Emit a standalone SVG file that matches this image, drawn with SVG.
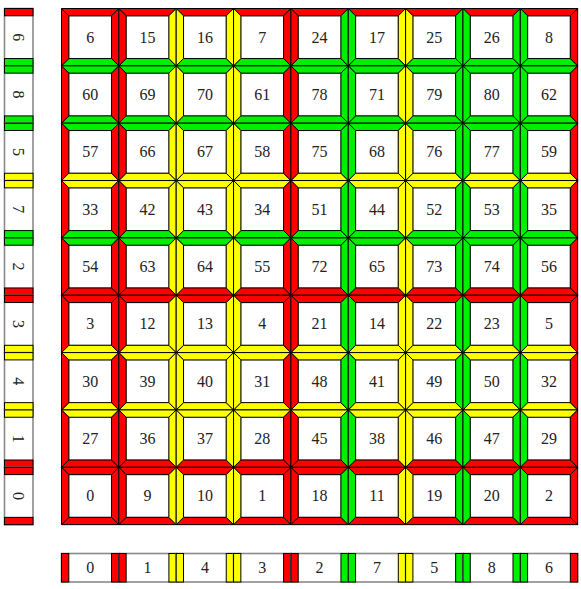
<svg xmlns="http://www.w3.org/2000/svg" xmlns:xlink="http://www.w3.org/1999/xlink" width="581" height="589" viewBox="0 0 581 589">
<style>
.w{fill:#fff;stroke:#8a8a8a;stroke-width:1.2}
.sw{fill:#fff;stroke:#8a8a8a;stroke-width:1.6}
.R{fill:#ff0000}
.G{fill:#00ee00}
.Y{fill:#ffff00}
.b{stroke:#000;stroke-width:1}
text{font-family:"Liberation Serif","Times New Roman",serif;font-size:16px;fill:#222;text-anchor:middle}
</style>
<defs>
<rect id="in" x="7.3" y="7.3" width="42.75" height="42.75" class="w"/>
<path id="tt" d="M0,0 H57.35 L50.05,7.3 H7.3 Z" stroke="#000" stroke-width="1"/>
<path id="tb" d="M0,57.35 H57.35 L50.05,50.05 H7.3 Z" stroke="#000" stroke-width="1"/>
<path id="tl" d="M0,0 V57.35 L7.3,50.05 V7.3 Z" stroke="#000" stroke-width="1"/>
<path id="tr" d="M57.35,0 V57.35 L50.05,50.05 V7.3 Z" stroke="#000" stroke-width="1"/>
<rect id="lt" x="0" y="0" width="28.5" height="7.3" stroke="#000" stroke-width="1"/>
<rect id="lb" x="0" y="50.05" width="28.5" height="7.3" stroke="#000" stroke-width="1"/>
<rect id="bl" x="0" y="0" width="7.3" height="28.5" stroke="#000" stroke-width="1"/>
<rect id="br" x="50.05" y="0" width="7.3" height="28.5" stroke="#000" stroke-width="1"/>
</defs>
<g id="connectors"></g>
<g id="rowlabels">
<g id="row6" transform="translate(4.5,8.5)"><rect class="sw" width="28.5" height="57.35"/><use xlink:href="#lt" class="R"/><use xlink:href="#lb" class="G"/><text transform="translate(14.25,28.7) rotate(90)" y="5.5">6</text></g>
<g id="row8" transform="translate(4.5,65.85)"><rect class="sw" width="28.5" height="57.35"/><use xlink:href="#lt" class="G"/><use xlink:href="#lb" class="G"/><text transform="translate(14.25,28.7) rotate(90)" y="5.5">8</text></g>
<g id="row5" transform="translate(4.5,123.2)"><rect class="sw" width="28.5" height="57.35"/><use xlink:href="#lt" class="G"/><use xlink:href="#lb" class="Y"/><text transform="translate(14.25,28.7) rotate(90)" y="5.5">5</text></g>
<g id="row7" transform="translate(4.5,180.55)"><rect class="sw" width="28.5" height="57.35"/><use xlink:href="#lt" class="Y"/><use xlink:href="#lb" class="G"/><text transform="translate(14.25,28.7) rotate(90)" y="5.5">7</text></g>
<g id="row2" transform="translate(4.5,237.9)"><rect class="sw" width="28.5" height="57.35"/><use xlink:href="#lt" class="G"/><use xlink:href="#lb" class="R"/><text transform="translate(14.25,28.7) rotate(90)" y="5.5">2</text></g>
<g id="row3" transform="translate(4.5,295.25)"><rect class="sw" width="28.5" height="57.35"/><use xlink:href="#lt" class="R"/><use xlink:href="#lb" class="Y"/><text transform="translate(14.25,28.7) rotate(90)" y="5.5">3</text></g>
<g id="row4" transform="translate(4.5,352.6)"><rect class="sw" width="28.5" height="57.35"/><use xlink:href="#lt" class="Y"/><use xlink:href="#lb" class="Y"/><text transform="translate(14.25,28.7) rotate(90)" y="5.5">4</text></g>
<g id="row1" transform="translate(4.5,409.95)"><rect class="sw" width="28.5" height="57.35"/><use xlink:href="#lt" class="Y"/><use xlink:href="#lb" class="R"/><text transform="translate(14.25,28.7) rotate(90)" y="5.5">1</text></g>
<g id="row0" transform="translate(4.5,467.3)"><rect class="sw" width="28.5" height="57.35"/><use xlink:href="#lt" class="R"/><use xlink:href="#lb" class="R"/><text transform="translate(14.25,28.7) rotate(90)" y="5.5">0</text></g>
</g>
<g id="collabels">
<g id="col0" transform="translate(61.5,553.5)"><rect class="sw" width="57.35" height="28.5"/><use xlink:href="#bl" class="R"/><use xlink:href="#br" class="R"/><text x="28.7" y="19.8">0</text></g>
<g id="col1" transform="translate(118.85,553.5)"><rect class="sw" width="57.35" height="28.5"/><use xlink:href="#bl" class="R"/><use xlink:href="#br" class="Y"/><text x="28.7" y="19.8">1</text></g>
<g id="col4" transform="translate(176.2,553.5)"><rect class="sw" width="57.35" height="28.5"/><use xlink:href="#bl" class="Y"/><use xlink:href="#br" class="Y"/><text x="28.7" y="19.8">4</text></g>
<g id="col3" transform="translate(233.55,553.5)"><rect class="sw" width="57.35" height="28.5"/><use xlink:href="#bl" class="Y"/><use xlink:href="#br" class="R"/><text x="28.7" y="19.8">3</text></g>
<g id="col2" transform="translate(290.9,553.5)"><rect class="sw" width="57.35" height="28.5"/><use xlink:href="#bl" class="R"/><use xlink:href="#br" class="G"/><text x="28.7" y="19.8">2</text></g>
<g id="col7" transform="translate(348.25,553.5)"><rect class="sw" width="57.35" height="28.5"/><use xlink:href="#bl" class="G"/><use xlink:href="#br" class="Y"/><text x="28.7" y="19.8">7</text></g>
<g id="col5" transform="translate(405.6,553.5)"><rect class="sw" width="57.35" height="28.5"/><use xlink:href="#bl" class="Y"/><use xlink:href="#br" class="G"/><text x="28.7" y="19.8">5</text></g>
<g id="col8" transform="translate(462.95,553.5)"><rect class="sw" width="57.35" height="28.5"/><use xlink:href="#bl" class="G"/><use xlink:href="#br" class="G"/><text x="28.7" y="19.8">8</text></g>
<g id="col6" transform="translate(520.3,553.5)"><rect class="sw" width="57.35" height="28.5"/><use xlink:href="#bl" class="G"/><use xlink:href="#br" class="R"/><text x="28.7" y="19.8">6</text></g>
</g>
<g id="grid">
<!-- row 0: top R bottom G -->
<g id="n6" transform="translate(61.5,8.5)"><use xlink:href="#in"/><use xlink:href="#tt" class="R"/><use xlink:href="#tb" class="G"/><use xlink:href="#tl" class="R"/><use xlink:href="#tr" class="R"/><text x="28.7" y="34.2">6</text></g>
<g id="n15" transform="translate(118.85,8.5)"><use xlink:href="#in"/><use xlink:href="#tt" class="R"/><use xlink:href="#tb" class="G"/><use xlink:href="#tl" class="R"/><use xlink:href="#tr" class="Y"/><text x="28.7" y="34.2">15</text></g>
<g id="n16" transform="translate(176.2,8.5)"><use xlink:href="#in"/><use xlink:href="#tt" class="R"/><use xlink:href="#tb" class="G"/><use xlink:href="#tl" class="Y"/><use xlink:href="#tr" class="Y"/><text x="28.7" y="34.2">16</text></g>
<g id="n7" transform="translate(233.55,8.5)"><use xlink:href="#in"/><use xlink:href="#tt" class="R"/><use xlink:href="#tb" class="G"/><use xlink:href="#tl" class="Y"/><use xlink:href="#tr" class="R"/><text x="28.7" y="34.2">7</text></g>
<g id="n24" transform="translate(290.9,8.5)"><use xlink:href="#in"/><use xlink:href="#tt" class="R"/><use xlink:href="#tb" class="G"/><use xlink:href="#tl" class="R"/><use xlink:href="#tr" class="G"/><text x="28.7" y="34.2">24</text></g>
<g id="n17" transform="translate(348.25,8.5)"><use xlink:href="#in"/><use xlink:href="#tt" class="R"/><use xlink:href="#tb" class="G"/><use xlink:href="#tl" class="G"/><use xlink:href="#tr" class="Y"/><text x="28.7" y="34.2">17</text></g>
<g id="n25" transform="translate(405.6,8.5)"><use xlink:href="#in"/><use xlink:href="#tt" class="R"/><use xlink:href="#tb" class="G"/><use xlink:href="#tl" class="Y"/><use xlink:href="#tr" class="G"/><text x="28.7" y="34.2">25</text></g>
<g id="n26" transform="translate(462.95,8.5)"><use xlink:href="#in"/><use xlink:href="#tt" class="R"/><use xlink:href="#tb" class="G"/><use xlink:href="#tl" class="G"/><use xlink:href="#tr" class="G"/><text x="28.7" y="34.2">26</text></g>
<g id="n8" transform="translate(520.3,8.5)"><use xlink:href="#in"/><use xlink:href="#tt" class="R"/><use xlink:href="#tb" class="G"/><use xlink:href="#tl" class="G"/><use xlink:href="#tr" class="R"/><text x="28.7" y="34.2">8</text></g>
<!-- row 1: top G bottom G -->
<g id="n60" transform="translate(61.5,65.85)"><use xlink:href="#in"/><use xlink:href="#tt" class="G"/><use xlink:href="#tb" class="G"/><use xlink:href="#tl" class="R"/><use xlink:href="#tr" class="R"/><text x="28.7" y="34.2">60</text></g>
<g id="n69" transform="translate(118.85,65.85)"><use xlink:href="#in"/><use xlink:href="#tt" class="G"/><use xlink:href="#tb" class="G"/><use xlink:href="#tl" class="R"/><use xlink:href="#tr" class="Y"/><text x="28.7" y="34.2">69</text></g>
<g id="n70" transform="translate(176.2,65.85)"><use xlink:href="#in"/><use xlink:href="#tt" class="G"/><use xlink:href="#tb" class="G"/><use xlink:href="#tl" class="Y"/><use xlink:href="#tr" class="Y"/><text x="28.7" y="34.2">70</text></g>
<g id="n61" transform="translate(233.55,65.85)"><use xlink:href="#in"/><use xlink:href="#tt" class="G"/><use xlink:href="#tb" class="G"/><use xlink:href="#tl" class="Y"/><use xlink:href="#tr" class="R"/><text x="28.7" y="34.2">61</text></g>
<g id="n78" transform="translate(290.9,65.85)"><use xlink:href="#in"/><use xlink:href="#tt" class="G"/><use xlink:href="#tb" class="G"/><use xlink:href="#tl" class="R"/><use xlink:href="#tr" class="G"/><text x="28.7" y="34.2">78</text></g>
<g id="n71" transform="translate(348.25,65.85)"><use xlink:href="#in"/><use xlink:href="#tt" class="G"/><use xlink:href="#tb" class="G"/><use xlink:href="#tl" class="G"/><use xlink:href="#tr" class="Y"/><text x="28.7" y="34.2">71</text></g>
<g id="n79" transform="translate(405.6,65.85)"><use xlink:href="#in"/><use xlink:href="#tt" class="G"/><use xlink:href="#tb" class="G"/><use xlink:href="#tl" class="Y"/><use xlink:href="#tr" class="G"/><text x="28.7" y="34.2">79</text></g>
<g id="n80" transform="translate(462.95,65.85)"><use xlink:href="#in"/><use xlink:href="#tt" class="G"/><use xlink:href="#tb" class="G"/><use xlink:href="#tl" class="G"/><use xlink:href="#tr" class="G"/><text x="28.7" y="34.2">80</text></g>
<g id="n62" transform="translate(520.3,65.85)"><use xlink:href="#in"/><use xlink:href="#tt" class="G"/><use xlink:href="#tb" class="G"/><use xlink:href="#tl" class="G"/><use xlink:href="#tr" class="R"/><text x="28.7" y="34.2">62</text></g>
<!-- row 2: top G bottom Y -->
<g id="n57" transform="translate(61.5,123.2)"><use xlink:href="#in"/><use xlink:href="#tt" class="G"/><use xlink:href="#tb" class="Y"/><use xlink:href="#tl" class="R"/><use xlink:href="#tr" class="R"/><text x="28.7" y="34.2">57</text></g>
<g id="n66" transform="translate(118.85,123.2)"><use xlink:href="#in"/><use xlink:href="#tt" class="G"/><use xlink:href="#tb" class="Y"/><use xlink:href="#tl" class="R"/><use xlink:href="#tr" class="Y"/><text x="28.7" y="34.2">66</text></g>
<g id="n67" transform="translate(176.2,123.2)"><use xlink:href="#in"/><use xlink:href="#tt" class="G"/><use xlink:href="#tb" class="Y"/><use xlink:href="#tl" class="Y"/><use xlink:href="#tr" class="Y"/><text x="28.7" y="34.2">67</text></g>
<g id="n58" transform="translate(233.55,123.2)"><use xlink:href="#in"/><use xlink:href="#tt" class="G"/><use xlink:href="#tb" class="Y"/><use xlink:href="#tl" class="Y"/><use xlink:href="#tr" class="R"/><text x="28.7" y="34.2">58</text></g>
<g id="n75" transform="translate(290.9,123.2)"><use xlink:href="#in"/><use xlink:href="#tt" class="G"/><use xlink:href="#tb" class="Y"/><use xlink:href="#tl" class="R"/><use xlink:href="#tr" class="G"/><text x="28.7" y="34.2">75</text></g>
<g id="n68" transform="translate(348.25,123.2)"><use xlink:href="#in"/><use xlink:href="#tt" class="G"/><use xlink:href="#tb" class="Y"/><use xlink:href="#tl" class="G"/><use xlink:href="#tr" class="Y"/><text x="28.7" y="34.2">68</text></g>
<g id="n76" transform="translate(405.6,123.2)"><use xlink:href="#in"/><use xlink:href="#tt" class="G"/><use xlink:href="#tb" class="Y"/><use xlink:href="#tl" class="Y"/><use xlink:href="#tr" class="G"/><text x="28.7" y="34.2">76</text></g>
<g id="n77" transform="translate(462.95,123.2)"><use xlink:href="#in"/><use xlink:href="#tt" class="G"/><use xlink:href="#tb" class="Y"/><use xlink:href="#tl" class="G"/><use xlink:href="#tr" class="G"/><text x="28.7" y="34.2">77</text></g>
<g id="n59" transform="translate(520.3,123.2)"><use xlink:href="#in"/><use xlink:href="#tt" class="G"/><use xlink:href="#tb" class="Y"/><use xlink:href="#tl" class="G"/><use xlink:href="#tr" class="R"/><text x="28.7" y="34.2">59</text></g>
<!-- row 3: top Y bottom G -->
<g id="n33" transform="translate(61.5,180.55)"><use xlink:href="#in"/><use xlink:href="#tt" class="Y"/><use xlink:href="#tb" class="G"/><use xlink:href="#tl" class="R"/><use xlink:href="#tr" class="R"/><text x="28.7" y="34.2">33</text></g>
<g id="n42" transform="translate(118.85,180.55)"><use xlink:href="#in"/><use xlink:href="#tt" class="Y"/><use xlink:href="#tb" class="G"/><use xlink:href="#tl" class="R"/><use xlink:href="#tr" class="Y"/><text x="28.7" y="34.2">42</text></g>
<g id="n43" transform="translate(176.2,180.55)"><use xlink:href="#in"/><use xlink:href="#tt" class="Y"/><use xlink:href="#tb" class="G"/><use xlink:href="#tl" class="Y"/><use xlink:href="#tr" class="Y"/><text x="28.7" y="34.2">43</text></g>
<g id="n34" transform="translate(233.55,180.55)"><use xlink:href="#in"/><use xlink:href="#tt" class="Y"/><use xlink:href="#tb" class="G"/><use xlink:href="#tl" class="Y"/><use xlink:href="#tr" class="R"/><text x="28.7" y="34.2">34</text></g>
<g id="n51" transform="translate(290.9,180.55)"><use xlink:href="#in"/><use xlink:href="#tt" class="Y"/><use xlink:href="#tb" class="G"/><use xlink:href="#tl" class="R"/><use xlink:href="#tr" class="G"/><text x="28.7" y="34.2">51</text></g>
<g id="n44" transform="translate(348.25,180.55)"><use xlink:href="#in"/><use xlink:href="#tt" class="Y"/><use xlink:href="#tb" class="G"/><use xlink:href="#tl" class="G"/><use xlink:href="#tr" class="Y"/><text x="28.7" y="34.2">44</text></g>
<g id="n52" transform="translate(405.6,180.55)"><use xlink:href="#in"/><use xlink:href="#tt" class="Y"/><use xlink:href="#tb" class="G"/><use xlink:href="#tl" class="Y"/><use xlink:href="#tr" class="G"/><text x="28.7" y="34.2">52</text></g>
<g id="n53" transform="translate(462.95,180.55)"><use xlink:href="#in"/><use xlink:href="#tt" class="Y"/><use xlink:href="#tb" class="G"/><use xlink:href="#tl" class="G"/><use xlink:href="#tr" class="G"/><text x="28.7" y="34.2">53</text></g>
<g id="n35" transform="translate(520.3,180.55)"><use xlink:href="#in"/><use xlink:href="#tt" class="Y"/><use xlink:href="#tb" class="G"/><use xlink:href="#tl" class="G"/><use xlink:href="#tr" class="R"/><text x="28.7" y="34.2">35</text></g>
<!-- row 4: top G bottom R -->
<g id="n54" transform="translate(61.5,237.9)"><use xlink:href="#in"/><use xlink:href="#tt" class="G"/><use xlink:href="#tb" class="R"/><use xlink:href="#tl" class="R"/><use xlink:href="#tr" class="R"/><text x="28.7" y="34.2">54</text></g>
<g id="n63" transform="translate(118.85,237.9)"><use xlink:href="#in"/><use xlink:href="#tt" class="G"/><use xlink:href="#tb" class="R"/><use xlink:href="#tl" class="R"/><use xlink:href="#tr" class="Y"/><text x="28.7" y="34.2">63</text></g>
<g id="n64" transform="translate(176.2,237.9)"><use xlink:href="#in"/><use xlink:href="#tt" class="G"/><use xlink:href="#tb" class="R"/><use xlink:href="#tl" class="Y"/><use xlink:href="#tr" class="Y"/><text x="28.7" y="34.2">64</text></g>
<g id="n55" transform="translate(233.55,237.9)"><use xlink:href="#in"/><use xlink:href="#tt" class="G"/><use xlink:href="#tb" class="R"/><use xlink:href="#tl" class="Y"/><use xlink:href="#tr" class="R"/><text x="28.7" y="34.2">55</text></g>
<g id="n72" transform="translate(290.9,237.9)"><use xlink:href="#in"/><use xlink:href="#tt" class="G"/><use xlink:href="#tb" class="R"/><use xlink:href="#tl" class="R"/><use xlink:href="#tr" class="G"/><text x="28.7" y="34.2">72</text></g>
<g id="n65" transform="translate(348.25,237.9)"><use xlink:href="#in"/><use xlink:href="#tt" class="G"/><use xlink:href="#tb" class="R"/><use xlink:href="#tl" class="G"/><use xlink:href="#tr" class="Y"/><text x="28.7" y="34.2">65</text></g>
<g id="n73" transform="translate(405.6,237.9)"><use xlink:href="#in"/><use xlink:href="#tt" class="G"/><use xlink:href="#tb" class="R"/><use xlink:href="#tl" class="Y"/><use xlink:href="#tr" class="G"/><text x="28.7" y="34.2">73</text></g>
<g id="n74" transform="translate(462.95,237.9)"><use xlink:href="#in"/><use xlink:href="#tt" class="G"/><use xlink:href="#tb" class="R"/><use xlink:href="#tl" class="G"/><use xlink:href="#tr" class="G"/><text x="28.7" y="34.2">74</text></g>
<g id="n56" transform="translate(520.3,237.9)"><use xlink:href="#in"/><use xlink:href="#tt" class="G"/><use xlink:href="#tb" class="R"/><use xlink:href="#tl" class="G"/><use xlink:href="#tr" class="R"/><text x="28.7" y="34.2">56</text></g>
<!-- row 5: top R bottom Y -->
<g id="n3" transform="translate(61.5,295.25)"><use xlink:href="#in"/><use xlink:href="#tt" class="R"/><use xlink:href="#tb" class="Y"/><use xlink:href="#tl" class="R"/><use xlink:href="#tr" class="R"/><text x="28.7" y="34.2">3</text></g>
<g id="n12" transform="translate(118.85,295.25)"><use xlink:href="#in"/><use xlink:href="#tt" class="R"/><use xlink:href="#tb" class="Y"/><use xlink:href="#tl" class="R"/><use xlink:href="#tr" class="Y"/><text x="28.7" y="34.2">12</text></g>
<g id="n13" transform="translate(176.2,295.25)"><use xlink:href="#in"/><use xlink:href="#tt" class="R"/><use xlink:href="#tb" class="Y"/><use xlink:href="#tl" class="Y"/><use xlink:href="#tr" class="Y"/><text x="28.7" y="34.2">13</text></g>
<g id="n4" transform="translate(233.55,295.25)"><use xlink:href="#in"/><use xlink:href="#tt" class="R"/><use xlink:href="#tb" class="Y"/><use xlink:href="#tl" class="Y"/><use xlink:href="#tr" class="R"/><text x="28.7" y="34.2">4</text></g>
<g id="n21" transform="translate(290.9,295.25)"><use xlink:href="#in"/><use xlink:href="#tt" class="R"/><use xlink:href="#tb" class="Y"/><use xlink:href="#tl" class="R"/><use xlink:href="#tr" class="G"/><text x="28.7" y="34.2">21</text></g>
<g id="n14" transform="translate(348.25,295.25)"><use xlink:href="#in"/><use xlink:href="#tt" class="R"/><use xlink:href="#tb" class="Y"/><use xlink:href="#tl" class="G"/><use xlink:href="#tr" class="Y"/><text x="28.7" y="34.2">14</text></g>
<g id="n22" transform="translate(405.6,295.25)"><use xlink:href="#in"/><use xlink:href="#tt" class="R"/><use xlink:href="#tb" class="Y"/><use xlink:href="#tl" class="Y"/><use xlink:href="#tr" class="G"/><text x="28.7" y="34.2">22</text></g>
<g id="n23" transform="translate(462.95,295.25)"><use xlink:href="#in"/><use xlink:href="#tt" class="R"/><use xlink:href="#tb" class="Y"/><use xlink:href="#tl" class="G"/><use xlink:href="#tr" class="G"/><text x="28.7" y="34.2">23</text></g>
<g id="n5" transform="translate(520.3,295.25)"><use xlink:href="#in"/><use xlink:href="#tt" class="R"/><use xlink:href="#tb" class="Y"/><use xlink:href="#tl" class="G"/><use xlink:href="#tr" class="R"/><text x="28.7" y="34.2">5</text></g>
<!-- row 6: top Y bottom Y -->
<g id="n30" transform="translate(61.5,352.6)"><use xlink:href="#in"/><use xlink:href="#tt" class="Y"/><use xlink:href="#tb" class="Y"/><use xlink:href="#tl" class="R"/><use xlink:href="#tr" class="R"/><text x="28.7" y="34.2">30</text></g>
<g id="n39" transform="translate(118.85,352.6)"><use xlink:href="#in"/><use xlink:href="#tt" class="Y"/><use xlink:href="#tb" class="Y"/><use xlink:href="#tl" class="R"/><use xlink:href="#tr" class="Y"/><text x="28.7" y="34.2">39</text></g>
<g id="n40" transform="translate(176.2,352.6)"><use xlink:href="#in"/><use xlink:href="#tt" class="Y"/><use xlink:href="#tb" class="Y"/><use xlink:href="#tl" class="Y"/><use xlink:href="#tr" class="Y"/><text x="28.7" y="34.2">40</text></g>
<g id="n31" transform="translate(233.55,352.6)"><use xlink:href="#in"/><use xlink:href="#tt" class="Y"/><use xlink:href="#tb" class="Y"/><use xlink:href="#tl" class="Y"/><use xlink:href="#tr" class="R"/><text x="28.7" y="34.2">31</text></g>
<g id="n48" transform="translate(290.9,352.6)"><use xlink:href="#in"/><use xlink:href="#tt" class="Y"/><use xlink:href="#tb" class="Y"/><use xlink:href="#tl" class="R"/><use xlink:href="#tr" class="G"/><text x="28.7" y="34.2">48</text></g>
<g id="n41" transform="translate(348.25,352.6)"><use xlink:href="#in"/><use xlink:href="#tt" class="Y"/><use xlink:href="#tb" class="Y"/><use xlink:href="#tl" class="G"/><use xlink:href="#tr" class="Y"/><text x="28.7" y="34.2">41</text></g>
<g id="n49" transform="translate(405.6,352.6)"><use xlink:href="#in"/><use xlink:href="#tt" class="Y"/><use xlink:href="#tb" class="Y"/><use xlink:href="#tl" class="Y"/><use xlink:href="#tr" class="G"/><text x="28.7" y="34.2">49</text></g>
<g id="n50" transform="translate(462.95,352.6)"><use xlink:href="#in"/><use xlink:href="#tt" class="Y"/><use xlink:href="#tb" class="Y"/><use xlink:href="#tl" class="G"/><use xlink:href="#tr" class="G"/><text x="28.7" y="34.2">50</text></g>
<g id="n32" transform="translate(520.3,352.6)"><use xlink:href="#in"/><use xlink:href="#tt" class="Y"/><use xlink:href="#tb" class="Y"/><use xlink:href="#tl" class="G"/><use xlink:href="#tr" class="R"/><text x="28.7" y="34.2">32</text></g>
<!-- row 7: top Y bottom R -->
<g id="n27" transform="translate(61.5,409.95)"><use xlink:href="#in"/><use xlink:href="#tt" class="Y"/><use xlink:href="#tb" class="R"/><use xlink:href="#tl" class="R"/><use xlink:href="#tr" class="R"/><text x="28.7" y="34.2">27</text></g>
<g id="n36" transform="translate(118.85,409.95)"><use xlink:href="#in"/><use xlink:href="#tt" class="Y"/><use xlink:href="#tb" class="R"/><use xlink:href="#tl" class="R"/><use xlink:href="#tr" class="Y"/><text x="28.7" y="34.2">36</text></g>
<g id="n37" transform="translate(176.2,409.95)"><use xlink:href="#in"/><use xlink:href="#tt" class="Y"/><use xlink:href="#tb" class="R"/><use xlink:href="#tl" class="Y"/><use xlink:href="#tr" class="Y"/><text x="28.7" y="34.2">37</text></g>
<g id="n28" transform="translate(233.55,409.95)"><use xlink:href="#in"/><use xlink:href="#tt" class="Y"/><use xlink:href="#tb" class="R"/><use xlink:href="#tl" class="Y"/><use xlink:href="#tr" class="R"/><text x="28.7" y="34.2">28</text></g>
<g id="n45" transform="translate(290.9,409.95)"><use xlink:href="#in"/><use xlink:href="#tt" class="Y"/><use xlink:href="#tb" class="R"/><use xlink:href="#tl" class="R"/><use xlink:href="#tr" class="G"/><text x="28.7" y="34.2">45</text></g>
<g id="n38" transform="translate(348.25,409.95)"><use xlink:href="#in"/><use xlink:href="#tt" class="Y"/><use xlink:href="#tb" class="R"/><use xlink:href="#tl" class="G"/><use xlink:href="#tr" class="Y"/><text x="28.7" y="34.2">38</text></g>
<g id="n46" transform="translate(405.6,409.95)"><use xlink:href="#in"/><use xlink:href="#tt" class="Y"/><use xlink:href="#tb" class="R"/><use xlink:href="#tl" class="Y"/><use xlink:href="#tr" class="G"/><text x="28.7" y="34.2">46</text></g>
<g id="n47" transform="translate(462.95,409.95)"><use xlink:href="#in"/><use xlink:href="#tt" class="Y"/><use xlink:href="#tb" class="R"/><use xlink:href="#tl" class="G"/><use xlink:href="#tr" class="G"/><text x="28.7" y="34.2">47</text></g>
<g id="n29" transform="translate(520.3,409.95)"><use xlink:href="#in"/><use xlink:href="#tt" class="Y"/><use xlink:href="#tb" class="R"/><use xlink:href="#tl" class="G"/><use xlink:href="#tr" class="R"/><text x="28.7" y="34.2">29</text></g>
<!-- row 8: top R bottom R -->
<g id="n0" transform="translate(61.5,467.3)"><use xlink:href="#in"/><use xlink:href="#tt" class="R"/><use xlink:href="#tb" class="R"/><use xlink:href="#tl" class="R"/><use xlink:href="#tr" class="R"/><text x="28.7" y="34.2">0</text></g>
<g id="n9" transform="translate(118.85,467.3)"><use xlink:href="#in"/><use xlink:href="#tt" class="R"/><use xlink:href="#tb" class="R"/><use xlink:href="#tl" class="R"/><use xlink:href="#tr" class="Y"/><text x="28.7" y="34.2">9</text></g>
<g id="n10" transform="translate(176.2,467.3)"><use xlink:href="#in"/><use xlink:href="#tt" class="R"/><use xlink:href="#tb" class="R"/><use xlink:href="#tl" class="Y"/><use xlink:href="#tr" class="Y"/><text x="28.7" y="34.2">10</text></g>
<g id="n1" transform="translate(233.55,467.3)"><use xlink:href="#in"/><use xlink:href="#tt" class="R"/><use xlink:href="#tb" class="R"/><use xlink:href="#tl" class="Y"/><use xlink:href="#tr" class="R"/><text x="28.7" y="34.2">1</text></g>
<g id="n18" transform="translate(290.9,467.3)"><use xlink:href="#in"/><use xlink:href="#tt" class="R"/><use xlink:href="#tb" class="R"/><use xlink:href="#tl" class="R"/><use xlink:href="#tr" class="G"/><text x="28.7" y="34.2">18</text></g>
<g id="n11" transform="translate(348.25,467.3)"><use xlink:href="#in"/><use xlink:href="#tt" class="R"/><use xlink:href="#tb" class="R"/><use xlink:href="#tl" class="G"/><use xlink:href="#tr" class="Y"/><text x="28.7" y="34.2">11</text></g>
<g id="n19" transform="translate(405.6,467.3)"><use xlink:href="#in"/><use xlink:href="#tt" class="R"/><use xlink:href="#tb" class="R"/><use xlink:href="#tl" class="Y"/><use xlink:href="#tr" class="G"/><text x="28.7" y="34.2">19</text></g>
<g id="n20" transform="translate(462.95,467.3)"><use xlink:href="#in"/><use xlink:href="#tt" class="R"/><use xlink:href="#tb" class="R"/><use xlink:href="#tl" class="G"/><use xlink:href="#tr" class="G"/><text x="28.7" y="34.2">20</text></g>
<g id="n2" transform="translate(520.3,467.3)"><use xlink:href="#in"/><use xlink:href="#tt" class="R"/><use xlink:href="#tb" class="R"/><use xlink:href="#tl" class="G"/><use xlink:href="#tr" class="R"/><text x="28.7" y="34.2">2</text></g>
</g>
</svg>
